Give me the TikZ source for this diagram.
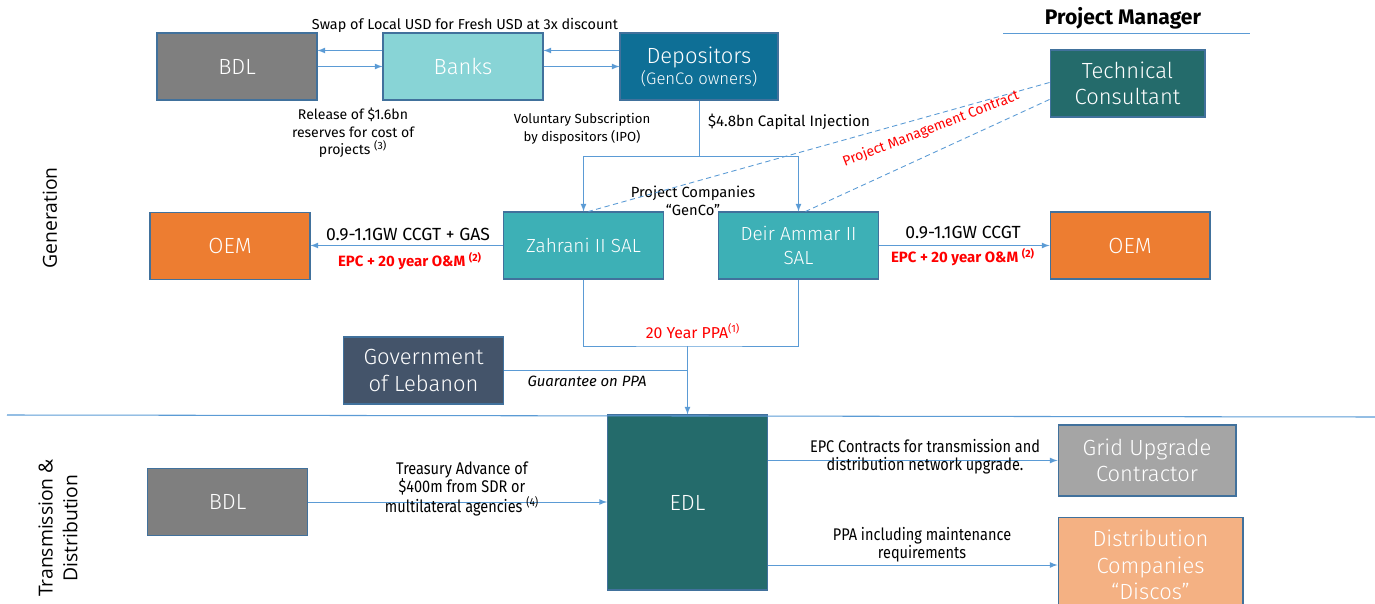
\documentclass[tikz,border=0pt]{standalone}
\usepackage{fontspec}
\setmainfont{Fira Sans}
\newfontfamily\lightfont{Fira Sans Light}
\newfontfamily\sidefont{Open Sans}
\newfontfamily\narrowfont{Fira Sans}[FakeStretch=0.86]

\begin{document}
\begin{tikzpicture}[x=0.02cm, y=-0.02cm,
    box/.style={draw=boxBorder, line width=0.6pt, text=white, align=center, inner sep=0pt,
        minimum width=3.2cm, minimum height=1.34cm, font=\lightfont\fontsize{12.5}{15}\selectfont},
    genBox/.style={box, fill=genCoTeal, font=\lightfont\fontsize{10.8}{14}\selectfont},
    link/.style={draw=lineBlue, line width=0.5pt},
    flow/.style={link, -latex},
    note/.style={align=center, inner sep=1pt, font=\fontsize{8}{10}\selectfont},
    narrowNote/.style={align=center, inner sep=1pt, font=\narrowfont\fontsize{9.6}{10.3}\selectfont},
    deal/.style={inner sep=1pt, font=\fontsize{10}{12}\selectfont},
    redDeal/.style={inner sep=1pt, text=red, font=\bfseries\fontsize{8.5}{10}\selectfont}]

    \definecolor{boxBorder}{HTML}{41719C}
    \definecolor{lineBlue}{HTML}{5B9BD5}
    \definecolor{bdlGrey}{HTML}{7F7F7F}
    \definecolor{banksTeal}{HTML}{88D4D6}
    \definecolor{depositorsBlue}{HTML}{0E6F96}
    \definecolor{genCoTeal}{HTML}{3DB0B6}
    \definecolor{darkTeal}{HTML}{246B6B}
    \definecolor{oemOrange}{HTML}{ED7D31}
    \definecolor{govSlate}{HTML}{44546A}
    \definecolor{gridGrey}{HTML}{A5A5A5}
    \definecolor{discosPeach}{HTML}{F4B183}

    \useasboundingbox (0,0) rectangle (1375,604);

    % Funding boxes
    \node[box, fill=bdlGrey] (bdlTop) at (237,66.5) {BDL};
    \node[box, fill=banksTeal] (banks) at (463,66.5) {Banks};
    \node[box, fill=depositorsBlue, minimum width=3.16cm] (depositors) at (699,66.5)
        {Depositors\\[-3pt]{\fontsize{9.5}{11}\selectfont(GenCo owners)}};

    \draw[flow] ([yshift=0.32cm]banks.west) -- ([yshift=0.32cm]bdlTop.east);
    \draw[flow] (bdlTop.east) -- (banks.west);
    \draw[flow] ([yshift=0.32cm]depositors.west) -- ([yshift=0.32cm]banks.east);
    \draw[flow] (banks.east) -- (depositors.west);

    \node[note, font=\fontsize{8.2}{10}\selectfont] (swapLabel) at (465,25) {Swap of Local USD for Fresh USD at 3x discount};
    \node[note] (releaseLabel) at (353,133) {Release of \$1.6bn\\reserves for cost of\\projects \textsuperscript{(3)}};
    \node[note, font=\fontsize{7.5}{10}\selectfont] (ipoLabel) at (582,129) {Voluntary Subscription\\by dispositors (IPO)};

    % Project manager
    \node[font=\bfseries\fontsize{12}{14}\selectfont] (pmTitle) at (1123,18) {Project Manager};
    \coordinate (pmRuleL) at (1003,33);
    \coordinate (pmRuleR) at (1250,33);
    \draw[link] (pmRuleL) -- (pmRuleR);
    \node[box, fill=darkTeal, minimum width=3.1cm] (techConsultant) at (1127.5,83.5) {Technical\\Consultant};

    % Generation companies
    \node[genBox] (zahrani) at (583.5,245.5) {Zahrani II SAL};
    \node[genBox] (deirAmmar) at (798.5,245.5) {Deir Ammar II\\SAL};
    \node[box, fill=oemOrange] (oemLeft) at (230,246) {OEM};
    \node[box, fill=oemOrange] (oemRight) at (1130,245.5) {OEM};

    \coordinate (capSplit) at (699,156);
    \draw[link] (depositors.south) -- (capSplit);
    \draw[flow] (capSplit) -| (zahrani.north);
    \draw[flow] (capSplit) -| (deirAmmar.north);
    \node[note, anchor=west, font=\fontsize{8.6}{10}\selectfont] (capLabel) at (706,122) {\$4.8bn Capital Injection};
    \node[note, font=\fontsize{8.4}{10.5}\selectfont] (genCoLabel) at (693,201) {Project Companies\\“GenCo”};

    \draw[link, dash pattern=on 3pt off 2pt] ([yshift=0.02cm]techConsultant.west) -- ([xshift=0.1cm]zahrani.north);
    \draw[link, dash pattern=on 3pt off 2pt] ([yshift=-0.32cm]techConsultant.west) -- ([xshift=0.14cm]deirAmmar.north);
    \node[text=red, rotate=21, inner sep=0pt, font=\fontsize{8}{10}\selectfont] (pmcLabel) at (931,129) {Project Management Contract};

    \draw[flow] (zahrani.west) -- (zahrani.west -| oemLeft.east);
    \node[deal] at (408,235) {0.9-1.1GW CCGT + GAS};
    \node[redDeal] at (410,261) {EPC + 20 year O\&M \textsuperscript{(2)}};
    \draw[flow] (deirAmmar.east) -- (deirAmmar.east -| oemRight.west);
    \node[deal] at (963,233) {0.9-1.1GW CCGT};
    \node[redDeal] at (963,257) {EPC + 20 year O\&M \textsuperscript{(2)}};

    % PPA and guarantee
    \node[box, fill=govSlate] (govLebanon) at (423.5,370.5) {Government\\of Lebanon};
    \node[box, fill=darkTeal, minimum height=3.5cm] (edl) at (687.5,502.5) {EDL};

    \coordinate (ppaJoin) at (687.5,346);
    \draw[link] (zahrani.south) |- (ppaJoin) -| (deirAmmar.south);
    \draw[flow] (ppaJoin) -- (edl.north);
    \node[text=red, inner sep=1pt, font=\fontsize{9}{11}\selectfont] (ppaLabel) at (693,331) {20 Year PPA\textsuperscript{(1)}};
    \draw[link] (govLebanon.east) -- (govLebanon.east -| ppaJoin);
    \node[note, font=\itshape\fontsize{8.5}{10}\selectfont] (guaranteeLabel) at (587,381) {Guarantee on PPA};

    % Section divider
    \coordinate (divL) at (7,415);
    \coordinate (divR) at (1375,417);
    \draw[lineBlue, line width=0.6pt] (divL) -- (divR);

    \node[rotate=90, font=\sidefont\fontsize{11}{13}\selectfont] (genSide) at (50,218) {Generation};
    \node[rotate=90, align=center, font=\sidefont\fontsize{11}{14}\selectfont] (tdSide) at (58,528) {Transmission \&\\Distribution};

    % Transmission and distribution
    \node[box, fill=bdlGrey] (bdlBottom) at (227.5,502) {BDL};
    \node[box, fill=gridGrey, minimum width=3.56cm, minimum height=1.42cm] (gridContractor) at (1147,460.5) {Grid Upgrade\\Contractor};
    \node[box, fill=discosPeach, minimum width=3.7cm, minimum height=1.9cm] (discos) at (1150.5,565) {Distribution\\Companies\\“Discos”};

    \draw[flow] (bdlBottom.east) -- (bdlBottom.east -| edl.west);
    \node[narrowNote] (advanceLabel) at (462,489) {Treasury Advance of\\\$400m from SDR or\\multilateral agencies \textsuperscript{(4)}};
    \draw[flow] (edl.east |- gridContractor.west) -- (gridContractor.west);
    \node[narrowNote] (epcLabel) at (925,457) {EPC Contracts for transmission and\\distribution network upgrade.};
    \draw[flow] (edl.east |- discos.west) -- (discos.west);
    \node[narrowNote] (ppaDiscoLabel) at (922,545) {PPA including maintenance\\requirements};
\end{tikzpicture}
\end{document}
